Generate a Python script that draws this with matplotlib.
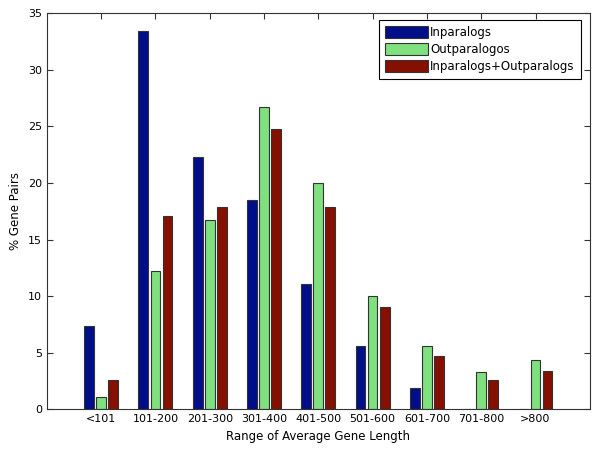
import numpy as np
import matplotlib.pyplot as plt

# data
ranges = ['<101', '101-200', '201-300', '301-400', '401-500',
          '501-600', '601-700', '701-800', '>800']
inparalogs = [7.4, 33.4, 22.3, 18.5, 11.1, 5.6, 1.9, 0, 0]
outparalogs = [1.1, 12.2, 16.7, 26.7, 20.0, 10.0, 5.6, 3.3, 4.4]
combined = [2.6, 17.1, 17.9, 24.8, 17.9, 9.0, 4.7, 2.6, 3.4]

plt.rcParams['font.family'] = ['DejaVu Sans']
plt.rcParams['font.size'] = 8

fig = plt.figure(figsize=(6, 4.51), dpi=100)
ax = fig.add_axes([0.078, 0.0925, 0.905, 0.878])

x = np.arange(1, len(ranges) + 1)
w = 0.18
off = 0.222
edge = '#333333'
ax.bar(x - off, inparalogs, w, color='#000E8A', edgecolor=edge, linewidth=0.8, label='Inparalogs')
ax.bar(x, outparalogs, w, color='#80E080', edgecolor=edge, linewidth=0.8, label='Outparalogos')
ax.bar(x + off, combined, w, color='#851000', edgecolor=edge, linewidth=0.8, label='Inparalogs+Outparalogs')

ax.set_xlim(0, 10)
ax.set_ylim(0, 35)
ax.set_xticks(x)
ax.set_xticklabels(ranges)
ax.set_yticks(range(0, 36, 5))
ax.tick_params(direction='in', top=True, right=True, length=4, width=0.8, colors='#333333', labelcolor='black')
# bottom ticks sit behind the bars in the original
ax.tick_params(axis='x', bottom=False)
for s in ax.spines.values():
    s.set_linewidth(0.8)
    s.set_color('#333333')

ax.set_xlabel('Range of Average Gene Length', fontsize=8.5)
ax.set_ylabel('% Gene Pairs', fontsize=8.5)

leg = ax.legend(loc='upper right', bbox_to_anchor=(0.983, 0.983), fontsize=8.5,
                fancybox=False, edgecolor='black', framealpha=1,
                handlelength=3.6, handleheight=1.2, handletextpad=0.2,
                borderpad=0.5, labelspacing=0.35, borderaxespad=0)
leg.get_frame().set_linewidth(0.8)

fig.savefig('out.png', dpi=100)
